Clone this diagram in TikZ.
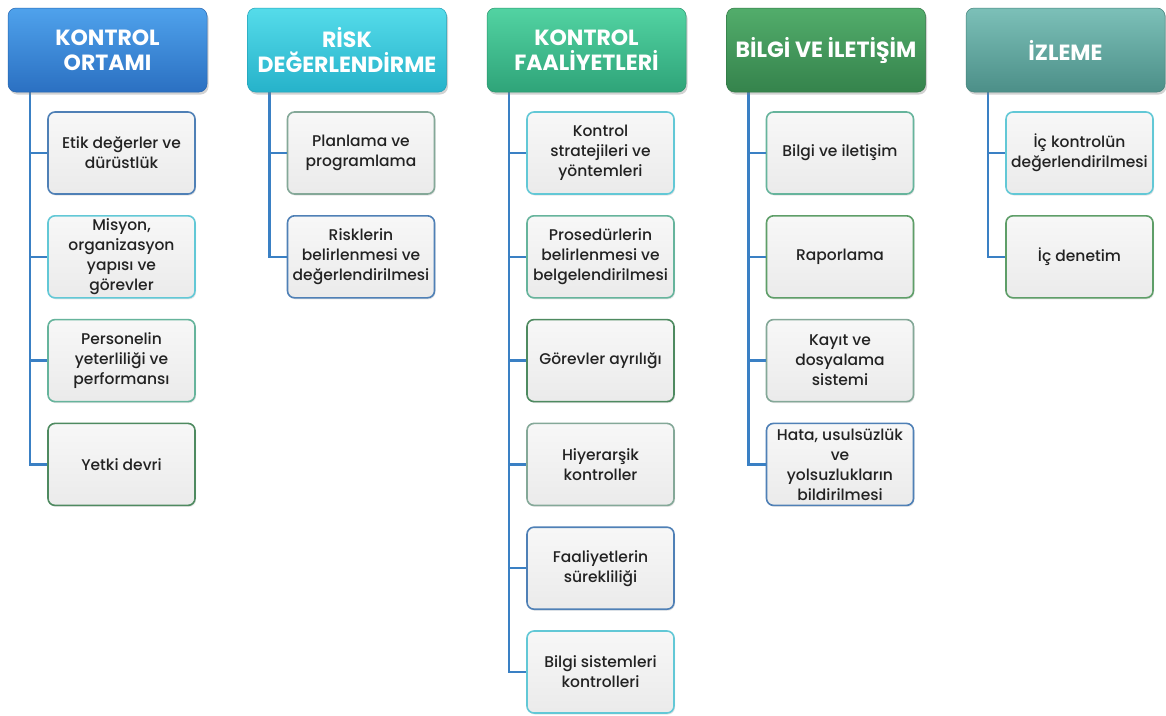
\documentclass[tikz,border=0pt]{standalone}
\usepackage{fontspec}
\setmainfont{Poppins}[UprightFont={* Medium},BoldFont={* Bold}]
\usetikzlibrary{shadows}
\definecolor{hAtop}{HTML}{4FA2EC}\definecolor{hAbot}{HTML}{2B70C2}
\definecolor{hBtop}{HTML}{55DCEA}\definecolor{hBbot}{HTML}{26B2CA}
\definecolor{hCtop}{HTML}{52D3A2}\definecolor{hCbot}{HTML}{2FA479}
\definecolor{hDtop}{HTML}{52AD6B}\definecolor{hDbot}{HTML}{35834C}
\definecolor{hEtop}{HTML}{7CC0B8}\definecolor{hEbot}{HTML}{4C8F88}
\definecolor{bBlue}{HTML}{4F80B6}
\definecolor{bCyan}{HTML}{62C8D6}
\definecolor{bTeal}{HTML}{66B49C}
\definecolor{bDark}{HTML}{4E8A60}
\definecolor{bGray}{HTML}{84A898}
\definecolor{bGreen}{HTML}{5E9E68}
\definecolor{linkblue}{HTML}{3A80C4}
\definecolor{txt}{HTML}{222222}
\begin{document}
\begin{tikzpicture}[x=1pt,y=-1pt,
  head/.style 2 args={rounded corners=8pt, minimum width=199pt, minimum height=84pt,
    top color=#1, bottom color=#2, draw=#2!90!black, line width=0.5pt,
    text=white, align=center, inner sep=2pt,
    font=\bfseries\fontsize{22}{25}\selectfont,
    drop shadow={opacity=.35,shadow xshift=1.5pt,shadow yshift=-2.5pt}},
  child/.style={rounded corners=7pt, minimum width=147pt, minimum height=82pt,
    draw=#1, line width=1.6pt, top color=white!97!black, bottom color=white!92!black,
    align=center, inner sep=1pt, text=txt,
    font=\fontsize{15.5}{20}\selectfont,
    drop shadow={opacity=.2,shadow xshift=1pt,shadow yshift=-1.5pt}},
  conn/.style={draw=linkblue, line width=2.3pt}]
\useasboundingbox (0,0) rectangle (1166,715);
\fill[white] (0,0) rectangle (1166,715);

% line anchor coordinates
\coordinate (l1) at (30,90);
\coordinate (l2) at (269.5,90);
\coordinate (l3) at (509,90);
\coordinate (l4) at (748.5,90);
\coordinate (l5) at (988,90);

% column 1
\node[child=bBlue]  (c11) at (121.5,153)   {Etik değerler ve\\dürüstlük};
\node[child=bCyan]  (c12) at (121.5,256.8) {Misyon,\\organizasyon\\yapısı ve\\görevler};
\node[child=bTeal]  (c13) at (121.5,360.6) {Personelin\\yeterliliği ve\\performansı};
\node[child=bDark]  (c14) at (121.5,464.4) {Yetki devri};
% column 2
\node[child=bGray]  (c21) at (361,153)   {Planlama ve\\programlama};
\node[child=bBlue]  (c22) at (361,256.8) {Risklerin\\belirlenmesi ve\\değerlendirilmesi};
% column 3
\node[child=bCyan]  (c31) at (600.5,153)   {Kontrol\\stratejileri ve\\yöntemleri};
\node[child=bTeal]  (c32) at (600.5,256.8) {Prosedürlerin\\belirlenmesi ve\\belgelendirilmesi};
\node[child=bDark]  (c33) at (600.5,360.6) {Görevler ayrılığı};
\node[child=bGray]  (c34) at (600.5,464.4) {Hiyerarşik\\kontroller};
\node[child=bBlue]  (c35) at (600.5,568.2) {Faaliyetlerin\\sürekliliği};
\node[child=bCyan]  (c36) at (600.5,672)   {Bilgi sistemleri\\kontrolleri};
% column 4
\node[child=bTeal]  (c41) at (840,153)   {Bilgi ve iletişim};
\node[child=bGreen] (c42) at (840,256.8) {Raporlama};
\node[child=bGray]  (c43) at (840,360.6) {Kayıt ve\\dosyalama\\sistemi};
\node[child=bBlue]  (c44) at (840,464.4) {Hata, usulsüzlük\\ve\\yolsuzlukların\\bildirilmesi};
% column 5
\node[child=bCyan]  (c51) at (1079.5,153)   {İç kontrolün\\değerlendirilmesi};
\node[child=bGreen] (c52) at (1079.5,256.8) {İç denetim};

% connectors
\draw[conn] (l1) |- (c14.west);
\foreach \c in {c11,c12,c13} \draw[conn] (l1 |- \c.west) -- (\c.west);
\draw[conn] (l2) |- (c22.west);
\draw[conn] (l2 |- c21.west) -- (c21.west);
\draw[conn] (l3) |- (c36.west);
\foreach \c in {c31,c32,c33,c34,c35} \draw[conn] (l3 |- \c.west) -- (\c.west);
\draw[conn] (l4) |- (c44.west);
\foreach \c in {c41,c42,c43} \draw[conn] (l4 |- \c.west) -- (\c.west);
\draw[conn] (l5) |- (c52.west);
\draw[conn] (l5 |- c51.west) -- (c51.west);

% headers
\node[head={hAtop}{hAbot}] (h1) at (107.5,50) {KONTROL\\ORTAMI};
\node[head={hBtop}{hBbot}] (h2) at (347,50)   {RİSK\\DEĞERLENDİRME};
\node[head={hCtop}{hCbot}] (h3) at (586.5,50) {KONTROL\\FAALİYETLERİ};
\node[head={hDtop}{hDbot}] (h4) at (826,50)   {BİLGİ VE İLETİŞİM};
\node[head={hEtop}{hEbot}] (h5) at (1065.5,50){İZLEME};
\end{tikzpicture}
\end{document}
